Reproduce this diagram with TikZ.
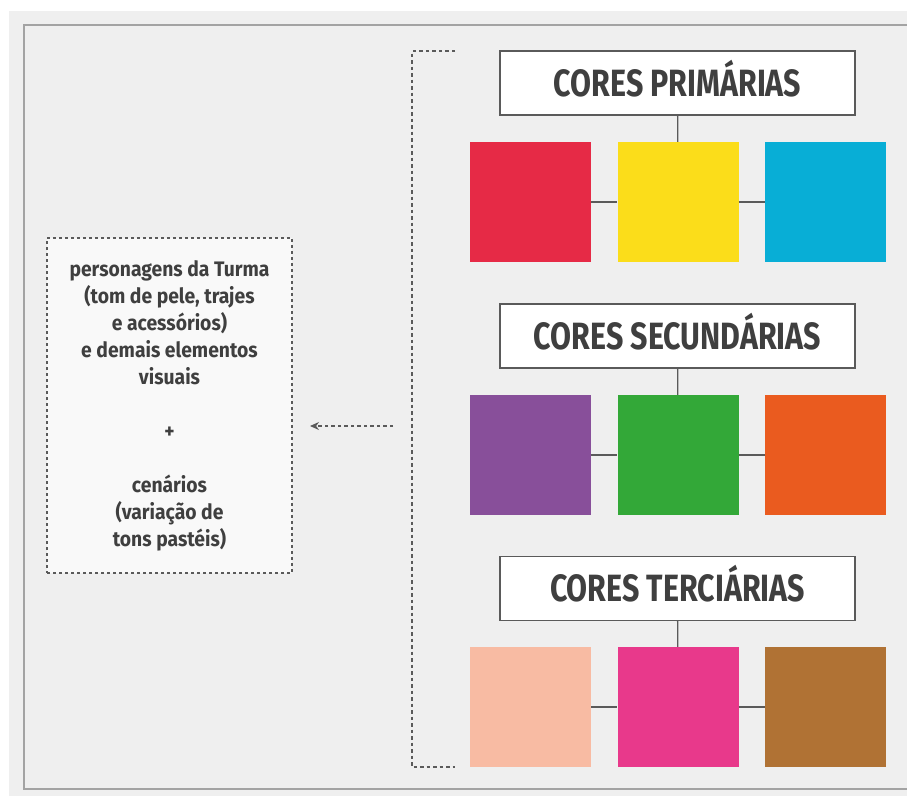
\documentclass[tikz,border=0pt]{standalone}
\usepackage{fontspec}
\setmainfont{Fira Sans}[FakeStretch=0.8]
\newfontfamily\corpo{Fira Sans}[FakeStretch=0.92]
\usetikzlibrary{positioning,arrows.meta}
\definecolor{fundo}{HTML}{EFEFEF}
\definecolor{moldura}{HTML}{A3A3A3}
\definecolor{linha}{HTML}{5A5A5A}
\definecolor{texto}{HTML}{3F3F3F}
\definecolor{vermelho}{HTML}{E62A46}
\definecolor{amarelo}{HTML}{FBDD1A}
\definecolor{azul}{HTML}{08AED6}
\definecolor{roxo}{HTML}{884F9A}
\definecolor{verde}{HTML}{33A838}
\definecolor{laranja}{HTML}{EA5B1F}
\definecolor{pessego}{HTML}{F8BBA3}
\definecolor{rosa}{HTML}{E8398B}
\definecolor{marrom}{HTML}{B07234}
\tikzset{
  titulo/.style={draw=linha, line width=1.3pt, fill=white, minimum width=355pt, minimum height=64pt, inner sep=0pt, text height=26pt, text depth=0pt, text=texto, font=\bfseries\fontsize{38}{42}\selectfont},
  quadrado/.style={fill=#1, minimum width=121pt, minimum height=120pt, inner sep=0pt},
  liga/.style={draw=linha, line width=1.3pt},
  tracejado/.style={draw=linha, line width=1.2pt, dash pattern=on 3.5pt off 3pt}
}
\begin{document}
\begin{tikzpicture}[x=1pt, y=-1pt]
\useasboundingbox (0,0) rectangle (907,796);
\fill[white] (0,0) rectangle (907,796);
\fill[fundo] (9,11) rectangle (907,796);
\draw[moldura, line width=1.5pt] (907,25) -- (24,25) -- (24,789) -- (907,789);
% primarias
\node[titulo] (prim) at (677.5,83) {CORES PRIMÁRIAS};
\node[quadrado=vermelho] (prim1) at (530.5,202) {};
\node[quadrado=amarelo] (prim2) at (678,202) {};
\node[quadrado=azul] (prim3) at (825.5,202) {};
\draw[liga] (prim) -- (prim2);
\draw[liga] (prim1) -- (prim2);
\draw[liga] (prim2) -- (prim3);
% secundarias
\node[titulo] (sec) at (677.5,336) {CORES SECUNDÁRIAS};
\node[quadrado=roxo] (sec1) at (530.5,455) {};
\node[quadrado=verde] (sec2) at (678,455) {};
\node[quadrado=laranja] (sec3) at (825.5,455) {};
\draw[liga] (sec) -- (sec2);
\draw[liga] (sec1) -- (sec2);
\draw[liga] (sec2) -- (sec3);
% terciarias
\node[titulo] (terc) at (677.5,588.5) {CORES TERCIÁRIAS};
\node[quadrado=pessego] (terc1) at (530.5,707) {};
\node[quadrado=rosa] (terc2) at (678,707) {};
\node[quadrado=marrom] (terc3) at (825.5,707) {};
\draw[liga] (terc) -- (terc2);
\draw[liga] (terc1) -- (terc2);
\draw[liga] (terc2) -- (terc3);
% chave e seta
\coordinate (chavetopo) at (455,51);
\coordinate (chavebase) at (455,767);
\draw[tracejado] (chavetopo) -- (412,51) -- (412,767) -- (chavebase);
\node[draw=linha, line width=1.2pt, dash pattern=on 3pt off 3pt, fill=white!60!fundo, minimum width=245pt, minimum height=335pt, inner sep=0pt, align=center, text=texto, font=\corpo\bfseries\fontsize{21}{27}\selectfont] (uso) at (169.5,405.5)
  {personagens da Turma\\(tom de pele, trajes\\e acessórios)\\e demais elementos\\visuais\\[27pt]+\\[27pt]cenários\\(variação de\\tons pastéis)};
\coordinate (setaini) at (393,426);
\coordinate (setafim) at (310,426);
\draw[tracejado, -{Stealth[length=9pt, width=8pt]}] (setaini) -- (setafim);
\end{tikzpicture}
\end{document}
